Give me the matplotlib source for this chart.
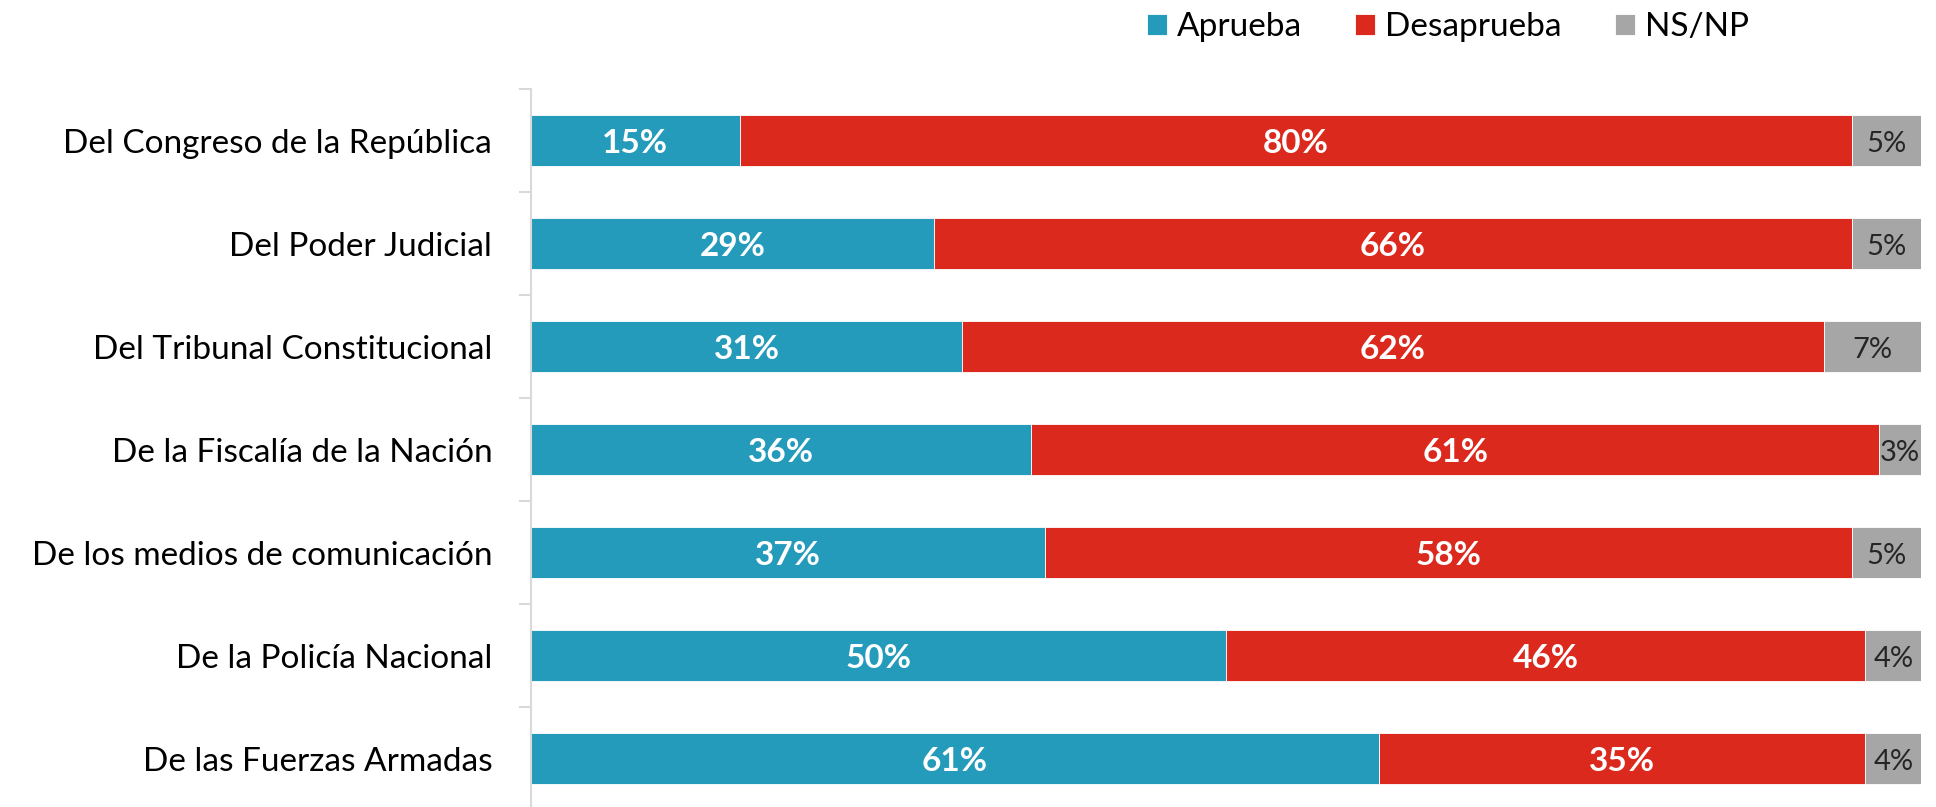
import matplotlib.pyplot as plt
import numpy as np

plt.rcParams['font.family'] = ['Lato', 'DejaVu Sans']

categorias = ["Del Congreso de la República", "Del Poder Judicial", "Del Tribunal Constitucional",
              "De la Fiscalía de la Nación", "De los medios de comunicación",
              "De la Policía Nacional", "De las Fuerzas Armadas"]
aprueba = [15, 29, 31, 36, 37, 50, 61]
desaprueba = [80, 66, 62, 61, 58, 46, 35]
ns_np = [5, 5, 7, 3, 5, 4, 4]

series = ["Aprueba", "Desaprueba", "NS/NP"]
colores = ["#259BBB", "#DB291E", "#A6A6A6"]

fig = plt.figure(figsize=(19.36, 8.07), dpi=100)
ax = fig.add_axes([0.2743, -0.004, 0.718, 0.8937])

y = np.arange(len(categorias))
izq = np.zeros(len(categorias))
handles = []
for nombre, vals, col in zip(series, [aprueba, desaprueba, ns_np], colores):
    vals = np.array(vals)
    b = ax.barh(y, vals, left=izq, height=0.5, color=col, edgecolor="white", linewidth=0.6, label=nombre)
    handles.append(b)
    for yi, l, v in zip(y, izq, vals):
        if nombre == "NS/NP":
            ax.text(l + v / 2, yi + 0.03, f"{v}%", ha="center", va="center", fontsize=21, color="#262626")
        else:
            ax.text(l + v / 2, yi + 0.03, f"{v}%", ha="center", va="center", fontsize=24,
                    color="white", fontweight="bold")
    izq = izq + vals

ax.set_xlim(0, 100)
ax.set_ylim(len(categorias) - 0.5, -0.5)
ax.set_yticks(y)
ax.set_yticklabels(categorias, fontsize=24)
ax.tick_params(axis="y", which="major", length=0, pad=28)
ax.set_yticks(np.arange(len(categorias) + 1) - 0.5, minor=True)
ax.tick_params(axis="y", which="minor", length=9, color="#D9D9D9", width=1.5)
ax.set_xticks([])
for s in ["top", "right", "bottom"]:
    ax.spines[s].set_visible(False)
ax.spines["left"].set_color("#D9D9D9")
ax.spines["left"].set_linewidth(1.5)

fig.legend(handles, series, loc="center", bbox_to_anchor=(0.748, 0.966), ncol=3, frameon=False,
           fontsize=24, handlelength=0.6, handleheight=0.6, handletextpad=0.3, columnspacing=1.6)

fig.savefig("out.png", dpi=100)
